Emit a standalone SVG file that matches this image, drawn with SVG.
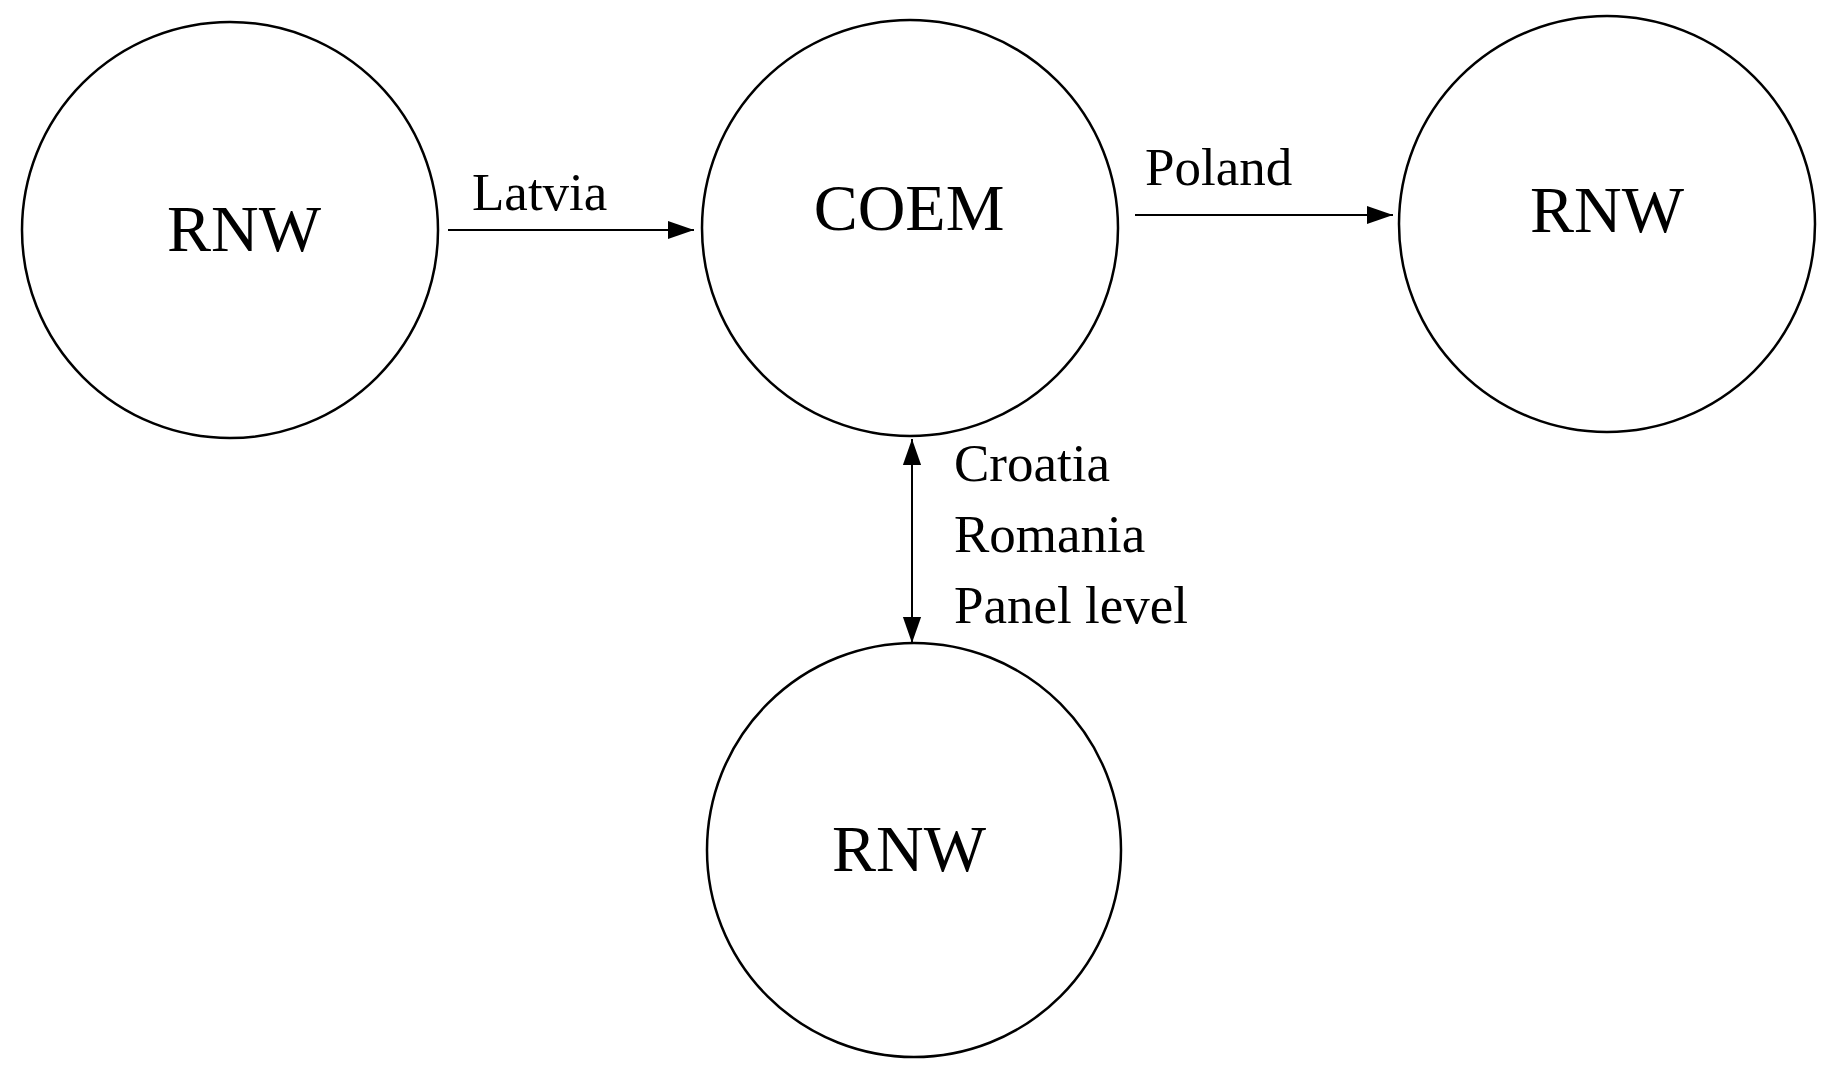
<svg xmlns="http://www.w3.org/2000/svg" width="1841" height="1073" viewBox="0 0 1841 1073">
<style>
circle{fill:#fff;stroke:#000;stroke-width:2.5}
.n{font-family:"Liberation Serif",serif;font-size:66px;text-anchor:middle}
.l{font-family:"Liberation Serif",serif;font-size:53px}
line{stroke:#000;stroke-width:2}
</style>
<defs><marker id="b" viewBox="0 0 10 10" refX="10" refY="5" markerWidth="26" markerHeight="26" markerUnits="userSpaceOnUse" orient="auto-start-reverse"><path d="M0,1.5L10,5L0,8.5z"/></marker></defs>
<rect width="1841" height="1073" fill="#fff"/>
<g id="rnw1"><circle cx="230" cy="230" r="208"/><text class="n" x="244" y="251">RNW</text></g>
<g id="coem"><circle cx="910" cy="228" r="208"/><text class="n" x="909" y="230">COEM</text></g>
<g id="rnw2"><circle cx="1607" cy="224" r="208"/><text class="n" x="1607" y="232">RNW</text></g>
<g id="rnw3"><circle cx="914" cy="850" r="207"/><text class="n" x="909" y="871">RNW</text></g>
<g id="connectors">
<line x1="448" y1="230" x2="694" y2="230" marker-end="url(#b)"/>
<line x1="1135" y1="215" x2="1393" y2="215" marker-end="url(#b)"/>
<line x1="912" y1="439" x2="912" y2="643" marker-start="url(#b)" marker-end="url(#b)"/>
<text class="l" x="472" y="210">Latvia</text>
<text class="l" x="1145" y="185">Poland</text>
<text class="l" x="954" y="481">Croatia</text>
<text class="l" x="954" y="552">Romania</text>
<text class="l" x="954" y="623">Panel level</text>
</g>
</svg>
